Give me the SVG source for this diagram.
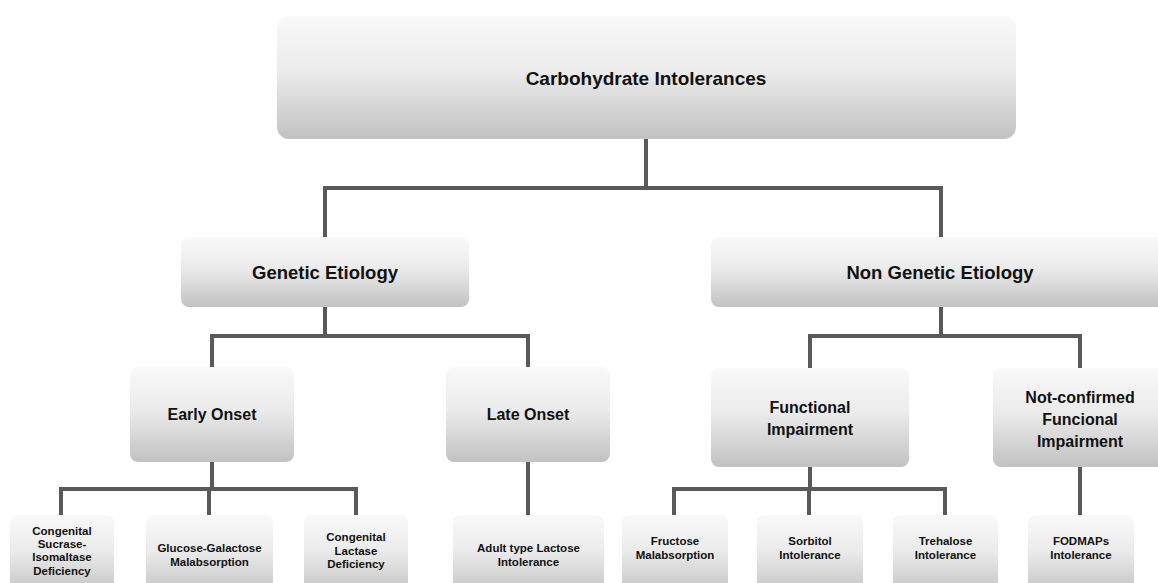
<svg xmlns="http://www.w3.org/2000/svg" width="1158" height="583" viewBox="0 0 1158 583">
  <defs>
    <linearGradient id="g" x1="0" y1="0" x2="0" y2="1">
      <stop offset="0" stop-color="#f9f9f9"/>
      <stop offset="0.45" stop-color="#ebebeb"/>
      <stop offset="1" stop-color="#c2c2c2"/>
    </linearGradient>
    <style>
      .box { fill: url(#g); }
      .t { font-family: "Liberation Sans", Arial, sans-serif; font-weight: bold; fill: #111; text-anchor: middle; }
      .t1 { font-size: 19px; }
      .t2 { font-size: 18.5px; }
      .t3 { font-size: 16px; }
      .t4 { font-size: 11.5px; }
      .c { fill: none; stroke: #595959; stroke-width: 4; }
    </style>
  </defs>
  <rect width="1158" height="583" fill="#ffffff"/>

  <g id="connectors">
    <path class="c" d="M646 139 V188 M325 188 H941 M325 186 V237 M941 186 V237"/>
    <path class="c" d="M325 307 V336 M212 336 H528 M212 334 V367 M528 334 V367"/>
    <path class="c" d="M941 307 V336 M810 336 H1080 M810 334 V368 M1080 334 V368"/>
    <path class="c" d="M212 462 V489 M61 489 H356 M61 487 V516 M209 487 V516 M356 487 V516"/>
    <path class="c" d="M528 462 V516"/>
    <path class="c" d="M810 467 V489 M674 489 H945 M674 487 V516 M809 487 V516 M945 487 V516"/>
    <path class="c" d="M1080 467 V516"/>
  </g>

  <g id="n-root">
    <rect class="box" x="277" y="16" width="739" height="123" rx="12"/>
    <text class="t t1" x="646" y="85">Carbohydrate Intolerances</text>
  </g>

  <g id="n-genetic">
    <rect class="box" x="181" y="237" width="288" height="70" rx="8"/>
    <text class="t t2" x="325" y="279">Genetic Etiology</text>
  </g>
  <g id="n-nongenetic">
    <rect class="box" x="711" y="237" width="460" height="70" rx="8"/>
    <text class="t t2" x="940" y="279">Non Genetic Etiology</text>
  </g>

  <g id="n-early">
    <rect class="box" x="130" y="367" width="164" height="95" rx="8"/>
    <text class="t t3" x="212" y="420">Early Onset</text>
  </g>
  <g id="n-late">
    <rect class="box" x="446" y="367" width="164" height="95" rx="8"/>
    <text class="t t3" x="528" y="420">Late Onset</text>
  </g>
  <g id="n-functional">
    <rect class="box" x="711" y="368" width="198" height="99" rx="8"/>
    <text class="t t3" x="810" y="413">Functional</text>
    <text class="t t3" x="810" y="435">Impairment</text>
  </g>
  <g id="n-notconfirmed">
    <rect class="box" x="993" y="368" width="175" height="99" rx="8"/>
    <text class="t t3" x="1080" y="403">Not-confirmed</text>
    <text class="t t3" x="1080" y="425">Funcional</text>
    <text class="t t3" x="1080" y="447">Impairment</text>
  </g>

  <g id="n-csid">
    <rect class="box" x="10" y="515" width="104" height="80" rx="7"/>
    <text class="t t4" x="62" y="535">Congenital</text>
    <text class="t t4" x="62" y="548">Sucrase-</text>
    <text class="t t4" x="62" y="561">Isomaltase</text>
    <text class="t t4" x="62" y="575">Deficiency</text>
  </g>
  <g id="n-ggm">
    <rect class="box" x="146" y="515" width="127" height="80" rx="7"/>
    <text class="t t4" x="209.5" y="552">Glucose-Galactose</text>
    <text class="t t4" x="209.5" y="566">Malabsorption</text>
  </g>
  <g id="n-cld">
    <rect class="box" x="304" y="515" width="104" height="80" rx="7"/>
    <text class="t t4" x="356" y="541">Congenital</text>
    <text class="t t4" x="356" y="555">Lactase</text>
    <text class="t t4" x="356" y="568">Deficiency</text>
  </g>
  <g id="n-adult">
    <rect class="box" x="453" y="515" width="151" height="80" rx="7"/>
    <text class="t t4" x="528.5" y="552">Adult type Lactose</text>
    <text class="t t4" x="528.5" y="566">Intolerance</text>
  </g>
  <g id="n-fructose">
    <rect class="box" x="622" y="515" width="106" height="80" rx="7"/>
    <text class="t t4" x="675" y="545">Fructose</text>
    <text class="t t4" x="675" y="559">Malabsorption</text>
  </g>
  <g id="n-sorbitol">
    <rect class="box" x="757" y="515" width="106" height="80" rx="7"/>
    <text class="t t4" x="810" y="545">Sorbitol</text>
    <text class="t t4" x="810" y="559">Intolerance</text>
  </g>
  <g id="n-trehalose">
    <rect class="box" x="893" y="515" width="105" height="80" rx="7"/>
    <text class="t t4" x="945.5" y="545">Trehalose</text>
    <text class="t t4" x="945.5" y="559">Intolerance</text>
  </g>
  <g id="n-fodmaps">
    <rect class="box" x="1028" y="515" width="106" height="80" rx="7"/>
    <text class="t t4" x="1081" y="545">FODMAPs</text>
    <text class="t t4" x="1081" y="559">Intolerance</text>
  </g>
</svg>
